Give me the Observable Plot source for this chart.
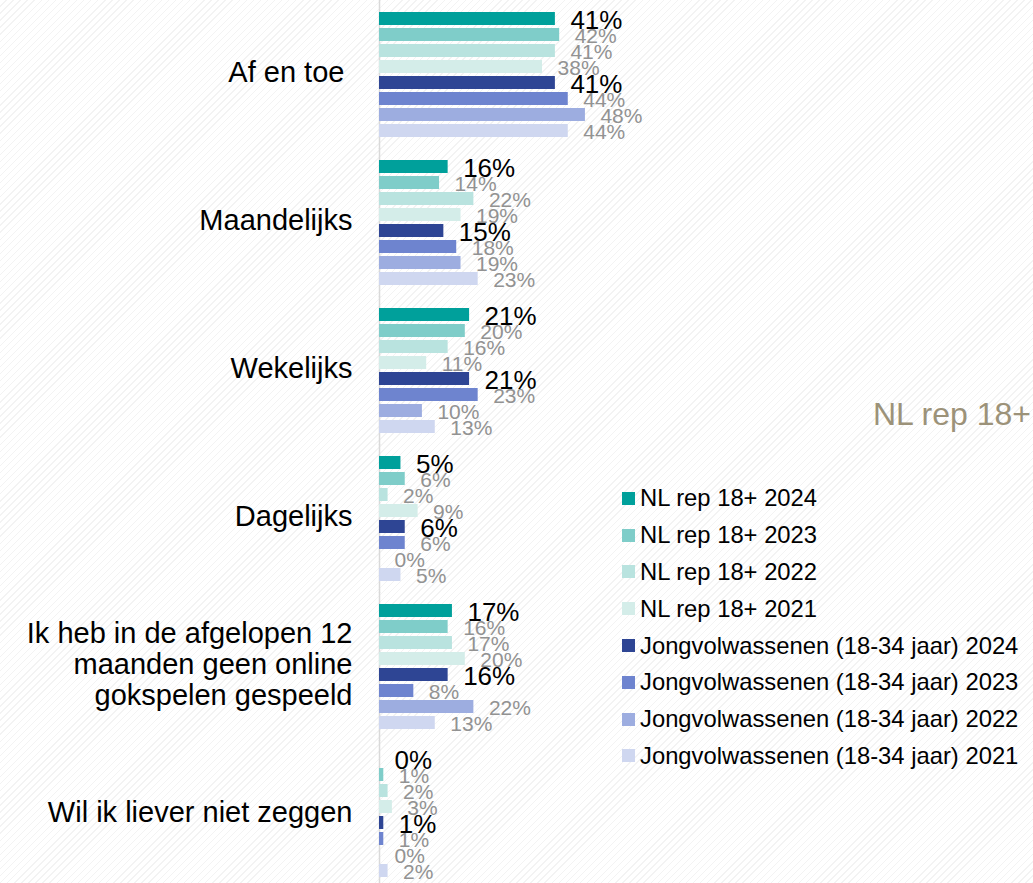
<!DOCTYPE html>
<html>
<head>
<meta charset="utf-8">
<script src="https://cdn.jsdelivr.net/npm/d3@7"></script>
<script src="https://cdn.jsdelivr.net/npm/@observablehq/plot@0.6"></script>
<style>
  html, body { margin: 0; padding: 0; }
  body {
    width: 1033px; height: 883px; position: relative; overflow: hidden;
    font-family: "Liberation Sans", Arial, sans-serif;
    background: repeating-linear-gradient(135deg, #ffffff 0px, #ffffff 4px, #f3f3f3 4px, #f3f3f3 5px);
  }
  #chart { position: absolute; left: 0; top: 0; }
  #legend { position: absolute; left: 622px; top: 480px; }
  .row { display: flex; align-items: center; height: 36.8px; font-size: 23.8px; color: #000; white-space: nowrap; }
  .sw { width: 13px; height: 13px; margin-right: 5px; flex: none; }
  #note { position: absolute; right: 2px; top: 396px; font-size: 32px; color: #9c9279; white-space: nowrap; }
</style>
</head>
<body>
<div id="chart"></div>
<div id="note">NL rep 18+</div>
<div id="legend"></div>
<script>
const categories = [
  "Af en toe",
  "Maandelijks",
  "Wekelijks",
  "Dagelijks",
  "Ik heb in de afgelopen 12 maanden geen online gokspelen gespeeld",
  "Wil ik liever niet zeggen"
];
const categoryLabels = [
  "Af en toe\u00a0",
  "Maandelijks",
  "Wekelijks",
  "Dagelijks",
  "Ik heb in de afgelopen 12\nmaanden geen online\ngokspelen gespeeld",
  "Wil ik liever niet zeggen"
];
const series = [
  "NL rep 18+ 2024",
  "NL rep 18+ 2023",
  "NL rep 18+ 2022",
  "NL rep 18+ 2021",
  "Jongvolwassenen (18-34 jaar) 2024",
  "Jongvolwassenen (18-34 jaar) 2023",
  "Jongvolwassenen (18-34 jaar) 2022",
  "Jongvolwassenen (18-34 jaar) 2021"
];
const colors = ["#00a09b", "#7fcdc9", "#b9e3df", "#d4ede9", "#2e4594", "#6e84cf", "#9dade0", "#cfd7f0"];
// values per category, in series order
const afEnToe     = [41, 42, 41, 38, 41, 44, 48, 44];
const maandelijks = [16, 14, 22, 19, 15, 18, 19, 23];
const wekelijks   = [21, 20, 16, 11, 21, 23, 10, 13];
const dagelijks   = [5, 6, 2, 9, 6, 6, 0, 5];
const nietGespeeld = [17, 16, 17, 20, 16, 8, 22, 13];
const nietZeggen  = [0, 1, 2, 3, 1, 1, 0, 2];
const valuesByCategory = [afEnToe, maandelijks, wekelijks, dagelijks, nietGespeeld, nietZeggen];

const data = [];
categories.forEach((c, i) => {
  series.forEach((s, j) => {
    data.push({cat: c, series: s, value: valuesByCategory[i][j], main: j === 0 || j === 4});
  });
});
const labelOf = new Map(categories.map((c, i) => [c, categoryLabels[i]]));

const chart = Plot.plot({
  width: 1033,
  height: 883,
  marginLeft: 379,
  marginRight: 225,
  marginTop: 8,
  marginBottom: 2,
  style: {background: "transparent", fontFamily: "Liberation Sans, Arial, sans-serif", overflow: "visible"},
  x: {domain: [0, 100], axis: null},
  y: {domain: series, padding: 0.2, axis: null},
  fy: {domain: categories, paddingInner: 0.103, paddingOuter: 0, label: null},
  color: {domain: series, range: colors},
  marks: [
    Plot.axisFy({anchor: "left", tickSize: 0, tickPadding: 27, fontSize: 29, lineHeight: 1.08, dy: -3, fill: "#000", label: null, tickFormat: d => labelOf.get(d)}),
    Plot.ruleX([0], {stroke: "#d9d9d9", strokeWidth: 1.5, insetTop: -8, insetBottom: -8}),
    Plot.barX(data, {x: "value", y: "series", fy: "cat", fill: "series"}),
    Plot.text(data.filter(d => !d.main), {x: "value", y: "series", fy: "cat", text: d => d.value + "%", dx: 15, dy: 1.5, textAnchor: "start", fill: "#929292", fontSize: 21}),
    Plot.text(data.filter(d => d.main), {x: "value", y: "series", fy: "cat", text: d => d.value + "%", dx: 15, dy: 1.5, textAnchor: "start", fill: "#000", fontSize: 26})
  ]
});
document.getElementById("chart").appendChild(chart);

const legend = document.getElementById("legend");
series.forEach((s, i) => {
  const row = document.createElement("div");
  row.className = "row";
  const sw = document.createElement("span");
  sw.className = "sw";
  sw.style.background = colors[i];
  const t = document.createElement("span");
  t.textContent = s;
  row.appendChild(sw);
  row.appendChild(t);
  legend.appendChild(row);
});
</script>
</body>
</html>
